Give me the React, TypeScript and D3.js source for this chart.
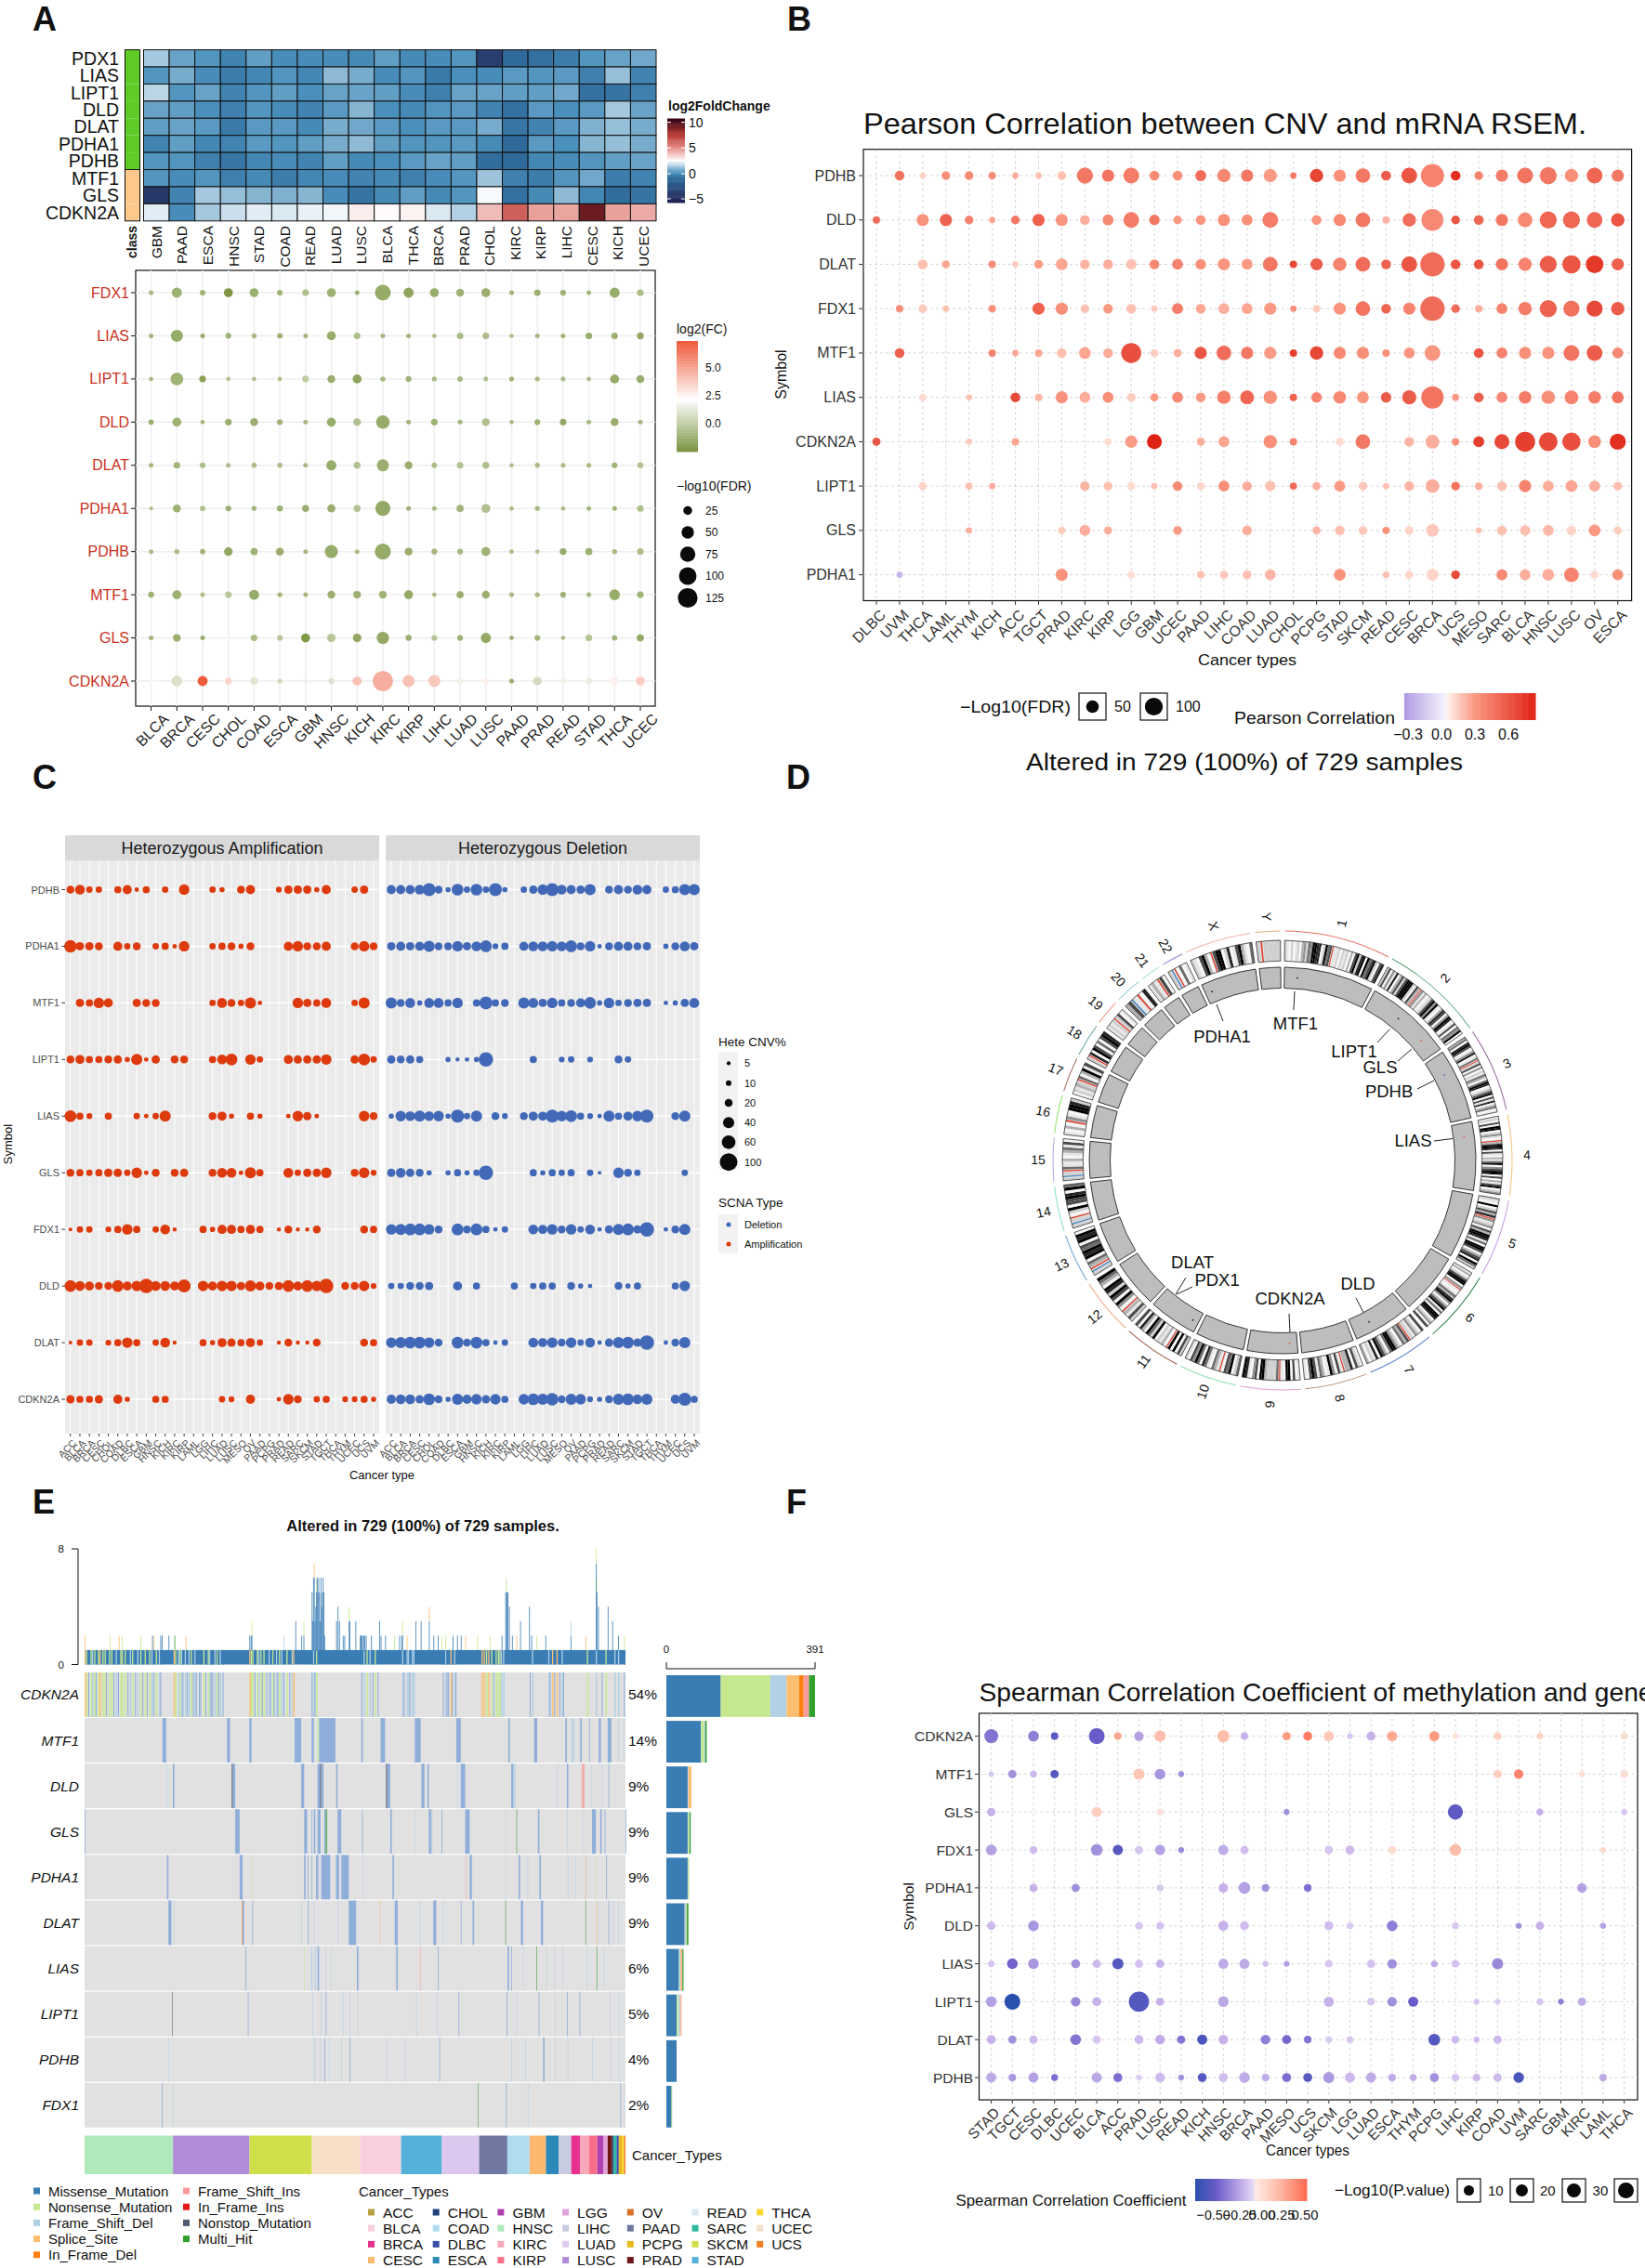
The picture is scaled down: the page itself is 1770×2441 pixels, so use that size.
import React from 'react';
import * as d3 from 'd3';

// ---------- Panel A: heatmap ----------
const heatCols = ['GBM','PAAD','ESCA','HNSC','STAD','COAD','READ','LUAD','LUSC','BLCA','THCA','BRCA','PRAD','CHOL','KIRC','KIRP','LIHC','CESC','KICH','UCEC'];
const heatRows = ['PDX1','LIAS','LIPT1','DLD','DLAT','PDHA1','PDHB','MTF1','GLS','CDKN2A'];
const heatClass = [0,0,0,0,0,0,0,1,1,1];
const heatValues = [
[1.2,.4,.1,-.4,.3,-.1,-.1,-.1,-.2,.3,-.2,-.1,.1,-4,-1.2,-1,-.6,.1,.4,.5],
[.1,.6,-.1,-.6,-.3,.1,-.3,.9,.6,-.1,.1,-.7,0,-.1,.2,.1,.2,-.5,1,-.4],
[1.5,.1,.4,-.4,.1,.3,0,.4,.4,.3,-.1,-.5,.4,.4,.3,.3,.5,-1,-.9,-.5],
[.4,.3,0,-.5,.1,-.1,-.4,.2,.8,0,-.2,.1,.2,-.4,-1,.2,0,.2,1.2,.4],
[.3,.4,.2,-.7,.2,.2,-.2,.6,.5,.2,0,.2,.2,.6,-.8,-.4,.2,.7,1,.6],
[-.4,.3,-.3,-.4,.2,.1,.3,.6,.9,.3,.1,.1,.2,-.2,-1.2,.2,0,.8,1,.6],
[.1,.1,-.5,-.8,-.3,-.1,-.4,.3,-.2,0,.2,.4,.3,-1.1,-1.2,-.3,-.1,.1,.3,.4],
[.1,-.1,.1,-.5,-.2,-.6,-.3,-.1,-.4,-.2,-.5,-.1,.1,1.1,-.5,-.6,.1,.5,-.6,-.4],
[-4.5,-.4,1.2,1,.8,.7,.8,-.1,-.9,-.2,.3,-.2,.1,2.3,-1,-.2,.9,-.3,-1.1,-.9],
[2,-.1,1.2,1.7,2,1.9,2.1,2.2,2.8,2.5,2.7,1.9,1.4,3.9,6.3,4.5,4.4,9.3,4.5,4.3],
];

// ---------- Panel A: bubble ----------
const aCols = ['BLCA','BRCA','CESC','CHOL','COAD','ESCA','GBM','HNSC','KICH','KIRC','KIRP','LIHC','LUAD','LUSC','PAAD','PRAD','READ','STAD','THCA','UCEC'];
const aRows = ['FDX1','LIAS','LIPT1','DLD','DLAT','PDHA1','PDHB','MTF1','GLS','CDKN2A'];
const aSize = [
[6,28,9,22,22,9,12,22,6,68,28,22,17,22,6,12,9,6,28,12],
[6,40,6,9,7,8,6,22,12,6,6,5,12,12,5,6,6,12,12,13],
[5,45,12,5,5,5,12,17,22,7,9,6,8,6,6,6,6,5,22,17],
[8,22,5,12,17,9,6,22,16,50,6,12,6,16,5,9,12,6,17,6],
[6,12,9,6,7,7,6,28,13,40,17,8,12,13,5,7,6,6,9,10],
[4,17,8,9,7,10,13,18,13,62,6,6,14,22,5,7,5,6,6,12],
[6,7,8,20,14,17,6,48,6,70,16,9,9,22,5,5,12,14,7,12],
[10,22,6,12,28,7,6,17,16,16,22,5,14,17,6,7,9,6,32,12],
[6,16,6,5,12,9,22,20,20,42,10,9,9,28,5,9,5,12,8,14],
[5,32,28,13,16,6,6,9,22,110,40,40,12,10,6,20,10,10,16,22],
];
const aFC = [
[-.5,-.8,-.6,-1.9,-.8,-.7,-.2,-.8,-.7,-1,-1.3,-1,-.8,-.9,-.7,-.8,-.8,-.6,-1,-.3],
[-.6,-1,-.9,-.7,-.5,-.8,-.6,-1,-.2,-.5,-.6,-.4,-.3,-.3,-.3,-.5,-.7,-.9,-.8,-1.1],
[-.5,-.7,-1.4,-.2,-.3,-.2,.3,-.9,-1.3,-.5,-.7,-.5,-.4,-.2,-.7,-.4,-.3,-.3,-1,-1],
[-.8,-.8,-.6,-.9,-.9,-.7,-.5,-1,-.1,-1,-.6,-.8,-.5,-.2,-.4,-.7,-1.1,-.5,-.9,-.5],
[-.5,-.7,-.2,-.2,-.4,-.4,-.5,-1,-.1,-.9,-.9,-.3,-.1,-.2,-.3,-.3,-.4,-.5,-.7,0],
[-.4,-.8,-.1,-.8,-.5,-.8,-.9,-.9,-.1,-1.1,-.7,-.5,-.6,-.1,-.4,-.4,-.4,-.5,-.7,-.2],
[-.3,-.3,-.6,-1.2,-.7,-.9,-.5,-1,-.3,-1,-.9,-.6,-.5,-.8,-.4,-.2,-1,-.8,-.4,-.2],
[-.7,-.8,-.2,.1,-1,-.5,-.5,-.9,-.8,-.7,-1.1,-.5,-.9,-.9,-.4,-.4,-.8,-.4,-1,-.7],
[-.6,-.9,-.9,2.2,-.3,0,-1.8,.1,-1.2,-1.1,-.9,0,-.8,-1.1,-1,-.6,-.4,0,-.7,-1.1],
[2.3,1.2,7.5,3.8,1.4,.8,1.9,1.3,4.4,5,4.4,4.2,2,3,-1,1,2,1.7,3,4],
];
const aFdrLegend = [25,50,75,100,125];

// ---------- Panel B ----------
const bCols = ['DLBC','UVM','THCA','LAML','THYM','KICH','ACC','TGCT','PRAD','KIRC','KIRP','LGG','GBM','UCEC','PAAD','LIHC','COAD','LUAD','CHOL','PCPG','STAD','SKCM','READ','CESC','BRCA','UCS','MESO','SARC','BLCA','HNSC','LUSC','OV','ESCA'];
const bRows = ['PDHB','DLD','DLAT','FDX1','MTF1','LIAS','CDKN2A','LIPT1','GLS','PDHA1'];
const bSize = [
[0,19,7,15,15,11,8,8,15,52,30,50,19,19,24,36,30,36,8,36,30,43,20,50,108,19,15,30,50,58,36,50,30],
[11,0,30,30,15,8,15,30,30,19,24,50,22,15,19,30,24,50,0,19,30,43,11,36,97,15,19,30,43,58,58,50,36],
[0,0,19,13,0,11,8,15,28,19,19,22,19,24,22,30,24,43,11,30,36,43,19,50,119,19,19,30,36,58,67,62,30],
[0,11,15,8,0,11,0,30,30,15,19,19,8,24,19,24,24,30,8,11,30,43,19,30,119,15,11,24,36,58,52,52,36],
[0,19,0,0,0,11,8,11,19,28,19,80,11,13,30,43,30,30,11,36,30,30,11,24,50,0,19,24,30,30,50,50,24],
[0,0,11,0,7,0,19,11,30,24,24,15,13,24,19,36,38,36,11,22,32,28,22,40,100,10,19,24,32,36,38,32,28],
[13,0,0,0,8,0,11,0,0,0,10,30,45,0,13,24,0,36,11,0,13,43,0,19,38,11,24,45,80,70,67,32,52],
[0,0,13,0,10,8,0,0,0,19,15,13,8,19,11,24,19,22,10,13,24,15,8,19,38,15,11,19,30,24,28,24,15],
[0,0,0,0,8,0,0,0,11,24,13,0,0,15,0,0,19,0,0,13,19,15,11,15,32,0,8,19,22,24,19,28,13],
[0,8,0,0,0,0,0,0,30,0,0,11,0,0,11,13,15,24,0,0,28,0,9,13,28,15,0,24,24,28,43,13,24],
];
const bCorr = [
[0,.42,.1,.3,.32,.3,.2,.15,.15,.4,.42,.38,.32,.3,.45,.33,.4,.25,.4,.62,.3,.4,.52,.55,.35,.72,.35,.38,.42,.4,.3,.48,.4],
[.45,0,.28,.5,.35,.22,.4,.5,.27,.2,.32,.38,.4,.25,.28,.3,.3,.38,0,.28,.33,.4,.18,.45,.33,.55,.48,.4,.33,.48,.48,.48,.55],
[0,0,.15,.22,0,.3,.12,.25,.22,.18,.2,.15,.33,.35,.3,.27,.25,.4,.6,.52,.35,.45,.5,.55,.45,.55,.55,.42,.35,.52,.55,.68,.5],
[0,.3,.12,.15,0,.3,0,.5,.3,.15,.25,.15,.12,.38,.22,.2,.22,.25,.3,.12,.28,.42,.48,.35,.45,.45,.2,.35,.38,.5,.43,.6,.52],
[0,.5,0,0,0,.35,.22,.22,.15,.22,.2,.58,.12,.2,.55,.45,.4,.25,.65,.62,.33,.3,.3,.27,.27,0,.55,.35,.3,.28,.42,.52,.33],
[0,0,.08,0,.15,0,.6,.18,.28,.2,.3,.12,.25,.33,.25,.37,.48,.3,.5,.35,.33,.27,.52,.52,.42,.25,.5,.33,.38,.3,.35,.38,.42],
[.55,0,0,0,.12,0,.22,0,0,0,.08,.25,.78,0,.2,.22,0,.3,.35,0,.08,.4,0,.18,.2,.3,.65,.6,.65,.6,.58,.3,.72],
[0,0,.1,0,.15,.2,0,0,0,.18,.15,.08,.15,.32,.1,.3,.2,.15,.45,.2,.25,.13,.15,.18,.2,.42,.2,.15,.35,.2,.22,.2,.15],
[0,0,0,0,.2,0,0,0,.12,.2,.2,0,0,.25,0,0,.2,0,0,.18,.15,.13,.3,.1,.13,0,.15,.15,.15,.17,.1,.25,.12],
[0,-.25,0,0,0,0,0,0,.28,0,0,.07,0,0,.15,.13,.15,.18,0,0,.28,0,.15,.1,.1,.6,0,.33,.2,.2,.35,.08,.3],
];

// ---------- Panel C ----------
const cCols = ['ACC','BLCA','BRCA','CESC','CHOL','COAD','DLBC','ESCA','GBM','HNSC','KICH','KIRC','KIRP','LAML','LGG','LIHC','LUAD','LUSC','MESO','OV','PAAD','PCPG','PRAD','READ','SARC','SKCM','STAD','TGCT','THCA','THYM','UCEC','UCS','UVM'];
const cRows = ['PDHB','PDHA1','MTF1','LIPT1','LIAS','GLS','FDX1','DLD','DLAT','CDKN2A'];
const cAmp = [
[18,28,12,12,0,15,24,6,15,0,12,0,32,0,0,12,8,0,18,24,0,0,10,20,20,20,8,24,0,0,12,20,0],
[45,20,20,18,0,24,12,18,0,12,15,6,32,0,0,12,15,18,8,18,0,0,0,24,32,18,18,24,0,0,18,32,18],
[0,20,15,32,24,0,0,20,18,18,0,0,0,0,0,12,28,18,12,36,6,0,0,0,32,20,15,28,0,0,12,36,0],
[18,24,15,15,18,20,8,36,6,20,0,18,18,0,0,15,28,40,0,32,12,0,0,24,20,20,20,32,0,0,20,40,12],
[40,15,10,0,15,0,0,12,6,12,36,0,0,0,0,18,24,8,0,15,8,0,0,6,32,20,6,0,0,0,0,32,18],
[18,15,12,15,20,20,12,32,6,18,0,18,20,0,0,18,28,28,6,36,15,0,0,28,12,20,20,32,0,0,18,32,10],
[4,12,12,0,10,15,32,15,0,12,28,5,0,0,15,8,24,24,15,24,15,0,5,18,5,5,18,0,0,0,0,18,15],
[40,28,24,18,18,40,24,32,60,28,28,24,49,0,32,24,32,32,20,36,24,18,20,40,24,40,32,60,0,18,18,32,10],
[4,12,12,0,10,15,32,15,0,12,28,5,0,0,15,8,24,20,15,24,12,0,5,18,5,5,18,0,0,0,0,18,15],
[20,15,15,20,0,24,8,0,0,15,15,0,0,0,0,0,12,10,0,24,0,0,6,32,18,0,12,15,0,10,10,15,8],
];
const cDel = [
[24,24,24,28,49,18,8,40,12,40,12,49,8,0,12,20,32,49,28,24,20,36,0,18,24,18,28,24,0,12,15,36,36],
[20,24,20,24,36,18,18,32,20,28,40,10,15,0,24,28,28,32,28,40,18,32,6,18,24,24,18,20,0,8,18,28,20],
[36,18,28,8,28,28,15,32,0,15,49,15,18,0,36,28,20,32,15,18,24,40,8,32,12,18,20,20,0,6,8,20,28],
[20,18,20,15,0,0,8,5,6,8,60,0,0,0,0,15,0,0,10,12,0,10,0,0,18,12,0,0,0,0,0,0,0],
[8,32,28,36,28,32,8,49,12,36,0,18,10,0,18,24,24,49,32,40,15,10,6,36,15,24,32,49,0,0,18,36,0],
[20,28,20,18,8,0,8,15,8,12,60,0,0,0,0,15,8,15,12,15,0,12,4,0,32,18,12,0,0,0,0,12,0],
[32,36,40,40,32,18,0,40,18,40,15,6,12,0,0,28,24,32,18,32,12,28,6,20,36,40,20,60,0,6,18,36,0],
[12,12,18,18,20,0,0,24,0,15,0,0,0,15,0,12,15,15,0,18,8,6,0,0,18,8,15,0,0,0,15,32,0],
[32,36,40,40,32,18,0,40,18,40,15,6,12,0,0,28,24,32,18,32,12,28,6,20,36,40,20,60,0,6,18,36,0],
[24,28,28,20,40,18,8,36,24,32,20,32,15,0,32,40,36,44,18,36,32,10,8,18,36,40,28,36,0,0,24,49,15],
];
const cLegend = [5,10,20,40,60,100];

// ---------- Panel D ----------
const chrNames = ['1','2','3','4','5','6','7','8','9','10','11','12','13','14','15','16','17','18','19','20','21','22','X','Y'];
const chrSizes = [249,243,198,191,181,171,159,146,141,135,135,133,115,107,102,90,81,78,59,63,48,51,155,59];
const chrArcColors = ['#e8776a','#5fa37a','#9a6b9e','#f5c27a','#c79be0','#3e8a5a','#5577cc','#b98a6a','#e0a0d0','#90e0b0','#a05a4a','#f0a27a','#6a9ad8','#80dcc8','#b0a0e8','#90e070','#a06a5a','#5aa0a0','#f09a80','#8fd0d8','#a0e0c0','#9a80d0','#f0b0a8','#e0b080'];
const chrBands = [
'2102012034254887702856r112021203068278085682067',
'260417036268882063r413012684810376048701605480',
'3507860147015r260402153058701368061703501',
'120608802410r378706103158046880603168024',
'210802637r412406388715088603670852',
'130268804r10153784036815088702406',
'602412r6350248850368071203',
'0260733r160481035168601',
'10608801r522223880640178',
'5208560r13501570584602',
'260808r03120825803706',
'2613r0480682780358',
'2br3508785608780',
'2b2r02806687085',
'2b2r51130135160',
'1030r4108872',
'02132r503816',
'2r7086050687',
'1212r2601',
'36b1r07',
'131r60',
'2br0501',
'2106830r68802701683105',
'2r22222',
];
const geneMarks = [
{c:0,p:38,col:'#222'},{c:1,p:99,col:'#222'},{c:1,p:191,col:'#e8604a'},{c:2,p:58,col:'#4a6fb0'},{c:3,p:39,col:'#e8604a'},
{c:6,p:107,col:'#222'},{c:8,p:22,col:'#e8402a'},{c:10,p:18,col:'#222'},{c:22,p:19,col:'#222'},
];
const geneLabels = [
{t:'PDHA1',x:1315,y:1115},{t:'MTF1',x:1394,y:1101},{t:'LIPT1',x:1457,y:1131},{t:'GLS',x:1485,y:1148},{t:'PDHB',x:1494.6,y:1174},
{t:'LIAS',x:1520.5,y:1227},{t:'DLD',x:1461,y:1381},{t:'CDKN2A',x:1388,y:1397},{t:'PDX1',x:1309.6,y:1377},{t:'DLAT',x:1283,y:1358},
];
const geneLeaders = [
[1309,1081,1316,1099],[1393,1067,1392,1087],[1495.5,1107.5,1482,1122],[1519,1129,1504,1142],[1543,1163,1525,1172],
[1563,1225.5,1543,1228],[1467,1412.4,1459,1397],[1388,1434,1387,1414],[1265,1393,1276,1375],[1266,1393,1283,1385],
];

// ---------- Panel E ----------
const mutColors = {m:'#3a7db5',g:'#c6e98f',l:'#b0d0e4',o:'#fdbf6f',d:'#ff7f0e',p:'#fb9a99',r:'#e31a1c',n:'#4d5a70',h:'#33a02c'};
const oncoGenes = ['CDKN2A','MTF1','DLD','GLS','PDHA1','DLAT','LIAS','LIPT1','PDHB','FDX1'];
const oncoPct = ['54%','14%','9%','9%','9%','9%','6%','5%','4%','2%'];
const cdkn2aStrips = [[0,'o'],[2,'g'],[5,'m'],[8,'g'],[10,'l'],[13,'g'],[15,'m'],[18,'g'],[20,'o'],[24,'g'],[27,'g'],[29,'m'],[33,'g'],[36,'g'],[39,'m'],[42,'l'],[45,'m'],[48,'g'],[50,'g'],[54,'g'],[58,'m'],[61,'l'],[64,'g'],[68,'m'],[71,'l'],[75,'g'],[78,'m'],[81,'g'],[84,'m'],[87,'g'],[90,'l'],[93,'m'],[96,'g'],[100,'l'],[102,'m'],
[120,'o'],[122,'g'],[126,'l'],[128,'g'],[130,'l'],[132,'m'],[135,'l'],[138,'m'],[140,'l'],[143,'g'],[146,'m'],[148,'l'],[150,'m'],[154,'m'],[156,'m'],[160,'g'],[163,'m'],[166,'g'],[168,'l'],[170,'m'],[172,'m'],[175,'l'],[178,'g'],[180,'m'],[182,'l'],[186,'m'],
[222,'o'],[224,'g'],[226,'g'],[229,'m'],[232,'g'],[234,'l'],[237,'g'],[239,'m'],[241,'g'],[245,'m'],[248,'l'],[250,'m'],[253,'g'],[255,'m'],[258,'l'],[260,'m'],[262,'g'],[265,'l'],[268,'m'],[272,'g'],[276,'m'],[279,'l'],[281,'o'],
[306,'m'],[308,'l'],[310,'m'],[312,'g'],[373,'m'],[376,'l'],[380,'g'],[384,'l'],[388,'m'],[391,'g'],[395,'m'],
[428,'l'],[430,'m'],[434,'l'],[436,'l'],[438,'m'],[441,'l'],[443,'l'],
[483,'m'],[486,'l'],[488,'m'],[490,'m'],[493,'o'],[495,'m'],[498,'l'],[500,'m'],
[535,'o'],[538,'o'],[541,'g'],[544,'o'],[548,'g'],[551,'m'],[554,'g'],[557,'g'],[559,'g'],[561,'l'],[564,'l'],
[600,'m'],[603,'l'],[625,'l'],[627,'m'],[630,'o'],[633,'m'],[636,'o'],[640,'m'],[643,'l'],[645,'m'],
[677,'g'],[689,'l'],[697,'m'],[702,'g'],[714,'l'],[719,'l'],[727,'m']];
const mtf1Strips = [[105,110],[192,196],[222,225],[283,292],[306,309],[314,316,'g'],[316,338],[373,375],[399,405],[445,453],[501,507],[571,573],[606,610],[648,650],[656,660,'l'],[668,670],[680,681],[693,696],[705,710],[719,720,'l'],[727,728,'l']];
const dldStrips = [[110,111,'l'],[119,121],[198,200,'n'],[200,203],[292,296],[314,317],[317,319,'n'],[319,322],[339,341],[406,408,'n'],[408,412],[454,458],[462,464],[502,503,'l'],[507,513],[575,578],[578,581,'l'],[637,638,'l'],[650,652],[670,674,'p'],[683,684,'l'],[697,698,'l'],[706,707]];
const glsStrips = [[0,1],[203,209],[296,300],[306,307],[309,311],[314,318],[323,325],[325,327,'h'],[341,346],[374,375],[412,414],[445,446,'l'],[464,467],[467,469,'l'],[481,482],[513,519],[567,568,'l'],[582,583,'h'],[611,613],[650,651,'l'],[672,673,'l'],[684,689],[695,697],[701,702],[729,729.8]];
const pdha1Strips = [[1,2,'l'],[111,113],[209,213],[224,225,'g'],[296,298],[301,302],[306,307],[312,315],[319,331],[339,343],[346,356],[375,376,'l'],[415,417],[514,515,'p'],[519,522],[567,568,'l'],[585,587],[597,598,'l'],[613,615],[651,652,'l'],[661,662,'l'],[675,676,'p'],[688,689,'g'],[703,704]];
const dlatStrips = [[113,117],[120,121,'l'],[212,213,'d'],[213,215],[226,227],[292,293,'l'],[301,302],[309,310,'l'],[341,342,'l'],[356,366],[398,399,'o'],[418,422],[452,453,'l'],[470,474],[483,484,'l'],[507,508],[523,525],[567,568,'h'],[588,591],[615,618],[675,676,'h'],[690,691,'o'],[692,693,'l'],[706,707],[712,713,'l'],[719,720,'l']];
const liasStrips = [[217,218],[296,297,'g'],[305,307,'l'],[310,312,'l'],[314,316],[325,326,'l'],[332,333,'l'],[367,369],[420,422],[452,453,'p'],[476,477],[570,572],[575,576],[591,592,'l'],[609,610,'h'],[622,623,'l'],[633,634,'l'],[644,645,'l'],[677,678,'l'],[690,691,'h'],[700,701,'l']];
const lipt1Strips = [[118,119,'n'],[220,221],[307,308,'l'],[318,319,'l'],[325,326],[348,349,'l'],[357,358,'l'],[368,369,'l'],[447,448,'l'],[475,476,'l'],[504,505],[569,570],[582,583,'l'],[612,613],[634,635,'l'],[650,651],[667,668],[708,709,'l'],[720,721,'l']];
const pdhbStrips = [[113,114,'l'],[309,311,'l'],[317,318,'l'],[323,324],[329,330,'l'],[346,347,'l'],[357,358],[407,408,'l'],[432,433,'l'],[478,479],[575,576,'l'],[594,595,'l'],[618,620],[634,635,'l'],[651,652,'l'],[684,685,'l'],[709,710,'l'],[720,721,'l']];
const fdx1Strips = [[104,105],[119,120,'l'],[530,531,'h'],[568,569],[598,599,'l'],[722,723],[727,728,'l']];
const oncoStrips = [null,mtf1Strips,dldStrips,glsStrips,pdha1Strips,dlatStrips,liasStrips,lipt1Strips,pdhbStrips,fdx1Strips];
const topSpikes = [[0,2,'o'],[34,2,'g'],[46,2,'o'],[50,2,'g'],[75,2,'g'],[91,2,'m'],[93,2,'o'],[102,2,'m'],[104,2,'m'],[113,2,'m'],[121,2,'h'],[136,2,'o'],[222,2,'m'],[224,2,'m'],[225,3,'g'],[268,2,'l'],[284,3,'m'],[292,2,'m'],[295,3,'g'],[306,5,'m'],[307,3,'m'],[308,6,'m'],[309,7,'o'],[310,3,'m'],[311,4,'m'],[312,6,'g'],[313,6,'m'],[314,5,'m'],[315,6,'m'],[316,5,'m'],[317,3,'m'],[318,6,'m'],[319,4,'m'],[320,5,'m'],[321,6,'m'],[322,5,'m'],[323,2,'m'],[339,3,'m'],[341,4,'m'],[343,3,'m'],[348,2,'m'],[350,2,'m'],[356,4,'g'],[357,3,'m'],[365,3,'m'],[371,2,'m'],[372,2,'m'],[373,2,'m'],[374,2,'m'],[376,2,'m'],[377,2,'m'],[379,2,'m'],[386,2,'m'],[397,3,'m'],[399,2,'m'],[405,2,'m'],[417,2,'g'],[424,2,'m'],[427,2,'m'],[428,3,'g'],[434,2,'o'],[446,3,'m'],[453,3,'m'],[464,4,'o'],[470,2,'m'],[476,2,'m'],[481,2,'g'],[486,2,'g'],[496,2,'m'],[502,2,'m'],[507,2,'m'],[513,2,'o'],[529,2,'g'],[546,2,'g'],[562,2,'m'],[567,5,'m'],[568,6,'g'],[569,5,'m'],[570,5,'m'],[572,4,'m'],[576,2,'m'],[582,2,'o'],[587,3,'m'],[599,4,'m'],[602,2,'m'],[609,2,'g'],[621,2,'m'],[655,3,'l'],[675,2,'o'],[689,8,'g'],[690,6,'g'],[692,4,'m'],[705,4,'m'],[711,3,'m'],[719,2,'m'],[727,2,'g']];
const sideKeys = ['m','g','l','o','d','p','h'];
const sideValues = [[143,130,43,33,12,14,16],[91,8,3,0,0,0,4],[56,0,2,8,0,0,0],[56,3,2,0,0,0,3],[56,3,1,0,0,0,0],[48,1,4,1,0,0,4],[33,1,3,2,1,2,3],[27,4,5,2,0,2,0],[27,0,0,0,0,0,0],[13,1,0,0,0,0,1]];
const annoTypes = ['HNSC','LUSC','SKCM','UCEC','BLCA','STAD','LUAD','PAAD','COAD','CESC','ESCA','LIHC','BRCA','KIRC','KIRP','GBM','LGG','PRAD','CHOL','SARC','DLBC','PCPG','THCA','UCS'];
const annoCounts = [119,103,84,65,55,55,50,38,30,22,17,17,12,12,11,8,6,6,2,4,3,4,3,2];
const cancerColors = {ACC:'#b8a040',BLCA:'#f9d0e0',BRCA:'#e83090',CESC:'#fdb870',CHOL:'#1f3f78',COAD:'#b0dcf0',DLBC:'#3a50a8',ESCA:'#2c88b8',GBM:'#b040b0',HNSC:'#aeeabb',KIRC:'#f8a8b8',KIRP:'#f87088',LGG:'#e0a0d8',LIHC:'#c8cce0',LUAD:'#dcc8ee',LUSC:'#b08cd8',OV:'#d87028',PAAD:'#7078a0',PCPG:'#e8b820',PRAD:'#701818',READ:'#d8e8f4',SARC:'#30b8a0',SKCM:'#cfe04a',STAD:'#55b0da',THCA:'#f8d830',UCEC:'#f8e0c8',UCS:'#f08020'};
const cancerLegendCols = [['ACC','BLCA','BRCA','CESC'],['CHOL','COAD','DLBC','ESCA'],['GBM','HNSC','KIRC','KIRP'],['LGG','LIHC','LUAD','LUSC'],['OV','PAAD','PCPG','PRAD'],['READ','SARC','SKCM','STAD'],['THCA','UCEC','UCS']];
const mutLegend1 = [['Missense_Mutation','m'],['Nonsense_Mutation','g'],['Frame_Shift_Del','l'],['Splice_Site','o'],['In_Frame_Del','d']];
const mutLegend2 = [['Frame_Shift_Ins','p'],['In_Frame_Ins','r'],['Nonstop_Mutation','n'],['Multi_Hit','h']];

// ---------- Panel F ----------
const fCols = ['STAD','TGCT','CESC','DLBC','UCEC','BLCA','ACC','PRAD','LUSC','READ','KICH','HNSC','BRCA','PAAD','MESO','UCS','SKCM','LGG','LUAD','ESCA','THYM','PCPG','LIHC','KIRP','COAD','UVM','SARC','GBM','KIRC','LAML','THCA'];
const fRows = ['CDKN2A','MTF1','GLS','FDX1','PDHA1','DLD','LIAS','LIPT1','DLAT','PDHB'];
const fCDKN2A = [[0,17,-.28],[2,10,-.25],[3,5,-.4],[5,22,-.35],[6,5,.3],[7,8,-.15],[8,11,.22],[11,13,.22],[12,5,-.1],[14,6,.35],[15,7,.45],[16,9,.18],[17,3,-.05],[18,7,-.1],[19,9,.3],[21,9,.35],[22,2.5,.08],[24,5,.15],[26,4,.12],[30,4,.1]];
const fMTF1 = [[0,2.5,-.05],[1,6,-.2],[2,4,-.08],[3,6,-.42],[7,11,.18],[8,10,-.18],[9,3,-.2],[24,6,.15],[25,8,.42],[28,3,.08],[30,5,.08]];
const fGLS = [[0,6,-.1],[5,9,.15],[8,4,.06],[14,3,-.2],[22,20,-.38],[26,4,-.1],[30,3,-.05]];
const fFDX1 = [[0,10,-.15],[2,5,-.08],[5,12,-.2],[6,9,-.42],[7,6,-.05],[8,9,-.15],[9,3,-.22],[11,9,-.12],[12,6,-.07],[16,6,-.05],[17,7,-.08],[19,5,.1],[22,12,.22],[29,3,.1]];
const fPDHA1 = [[2,6,-.1],[4,6,-.2],[8,4,-.05],[11,8,-.1],[12,12,-.15],[13,5,-.2],[15,5,-.3],[28,8,-.15]];
const fDLD = [[0,6,-.08],[2,10,-.18],[7,5,-.05],[8,5,-.06],[11,9,-.1],[12,7,-.07],[16,7,-.07],[17,4,-.04],[19,10,-.25],[22,4,-.05],[25,3,-.2],[26,6,-.1],[29,3,-.15]];
const fLIAS = [[0,4,-.05],[1,10,-.33],[2,10,-.18],[4,7,-.2],[5,6,-.08],[6,11,-.42],[7,6,-.06],[8,6,-.1],[11,9,-.12],[12,9,-.12],[13,3,-.07],[14,3,-.15],[16,5,-.05],[18,6,-.06],[19,8,-.2],[21,4,-.12],[22,5,-.06],[24,11,-.22]];
const fLIPT1 = [[0,10,-.15],[1,22,-.55],[4,8,-.22],[5,7,-.1],[7,36,-.42],[8,6,-.1],[11,10,-.13],[16,9,-.1],[18,5,-.05],[19,8,-.2],[20,9,-.35],[23,3,-.06],[24,3,-.04],[26,4,-.05],[27,3,-.25],[28,6,-.12]];
const fDLAT = [[0,7,-.1],[1,6,-.2],[2,6,-.08],[4,10,-.28],[5,6,-.05],[7,7,-.08],[8,8,-.12],[9,6,-.28],[10,9,-.45],[11,8,-.1],[13,8,-.25],[14,7,-.32],[15,5,-.28],[16,4,-.04],[17,4,-.05],[21,12,-.42],[22,5,-.08],[23,3,-.08],[24,6,-.08]];
const fPDHB = [[0,9,-.12],[1,5,-.18],[2,9,-.15],[3,4,-.3],[5,9,-.13],[6,7,-.3],[7,3,-.03],[8,8,-.08],[9,3,-.2],[10,7,-.42],[11,7,-.07],[12,10,-.12],[13,5,-.12],[14,7,-.3],[15,7,-.4],[16,11,-.17],[17,9,-.08],[18,9,-.12],[19,5,-.12],[20,4,-.12],[21,7,-.2],[22,5,-.06],[23,5,-.08],[24,6,-.08],[25,10,-.45],[29,5,-.12]];
const fData = [fCDKN2A,fMTF1,fGLS,fFDX1,fPDHA1,fDLD,fLIAS,fLIPT1,fDLAT,fPDHB];

// ---------- helpers ----------
const T = ({x,y,s=14,a='start',w='normal',c='#111',rot,it,len,children}:any) => (
  <text x={x} y={y} fontSize={s} textAnchor={a} fontWeight={w} fill={c} dominantBaseline="central" fontStyle={it?'italic':undefined}
    transform={rot!=null?`rotate(${rot} ${x} ${y})`:undefined} textLength={len} lengthAdjust={len?'spacingAndGlyphs':undefined}>{children}</text>
);
const GradBar = ({x,y,w,h,scale,d0,d1,vertical}:any) => {
  const n = 80;
  return <g>{d3.range(n).map(i=>{
    const v = d0+(d1-d0)*(i+.5)/n;
    return vertical
      ? <rect key={i} x={x} y={y+h-(i+1)*h/n} width={w} height={h/n+.5} fill={scale(v)}/>
      : <rect key={i} x={x+i*w/n} y={y} width={w/n+.5} height={h} fill={scale(v)}/>;
  })}</g>;
};

function PanelA(){
  const x = d3.scaleBand().domain(heatCols).range([154.5,706]);
  const y = d3.scaleBand().domain(heatRows).range([53.6,237.8]);
  const col = d3.scaleLinear<string>().domain([-5,-1.2,0,2.4,5,7.5,10]).range(['#25305f','#2f6a9a','#4a90bc','#ffffff','#e58a85','#b93a35','#4f0f1c']);
  const xd = d3.scalePoint().domain(aCols).range([162.6,689]);
  const yd = d3.scalePoint().domain(aRows).range([315,733]);
  const r = d3.scaleSqrt().domain([0,125]).range([0,11.5]);
  const fc = d3.scaleLinear<string>().domain([-2,2.5,7.5]).range(['#7a9440','#ffffff','#ee5a3a']);
  return <g>
    <T x={35} y={20} s={36} w="bold">A</T>
    {heatRows.map((g,i)=><g key={g}>
      <T x={128} y={y(g)!+y.bandwidth()/2} s={19.5} a="end">{g}</T>
      <rect x={134.5} y={y(g)} width={16} height={y.bandwidth()} fill={heatClass[i]?'#fcc98a':'#5ecb26'}/>
      {heatCols.map((c,j)=><rect key={c} x={x(c)} y={y(g)} width={x.bandwidth()} height={y.bandwidth()} fill={col(heatValues[i][j])} stroke="#111" strokeWidth={1}/>)}
    </g>)}
    <rect x={134.5} y={53.6} width={16} height={184.2} fill="none" stroke="#111"/>
    <line x1={134.5} x2={150.5} y1={y('MTF1')} y2={y('MTF1')} stroke="#111"/>
    <T x={142} y={243} s={14} a="end" w="bold" rot={-90}>class</T>
    {heatCols.map(c=><T key={c} x={x(c)!+x.bandwidth()/2} y={243} s={15.5} a="end" rot={-90}>{c}</T>)}
    <T x={719} y={114} s={14} w="bold">log2FoldChange</T>
    <GradBar x={718} y={127.5} w={19} h={90.5} scale={col} d0={-6} d1={10.7} vertical/>
    {[[10,131.6],[5,159],[0,187],['−5',214]].map(([l,yy]:any)=><g key={l}><line x1={718} x2={722} y1={yy} y2={yy} stroke="#fff"/><line x1={733} x2={737} y1={yy} y2={yy} stroke="#fff"/><T x={741} y={yy} s={14}>{l}</T></g>)}
    <rect x={146} y={291} width={559} height={469} fill="#fff" stroke="#111" strokeWidth={1.2}/>
    {aCols.map(c=><g key={c}><line x1={xd(c)} x2={xd(c)} y1={291} y2={760} stroke="#eeeeee" strokeWidth={1.5}/><line x1={xd(c)} x2={xd(c)} y1={760} y2={765} stroke="#111"/>
      <T x={xd(c)!+16} y={771} s={16} a="end" rot={-45} c="#222">{c}</T></g>)}
    {aRows.map((g,i)=><g key={g}><line x1={146} x2={705} y1={yd(g)} y2={yd(g)} stroke="#eeeeee" strokeWidth={1.5}/><line x1={141} x2={146} y1={yd(g)} y2={yd(g)} stroke="#111"/>
      <T x={139} y={yd(g)} s={16} a="end" c="#c8321e">{g}</T>
      {aCols.map((c,j)=><circle key={c} cx={xd(c)} cy={yd(g)} r={r(aSize[i][j])} fill={fc(aFC[i][j])}/>)}</g>)}
    <T x={728} y={354} s={14}>log2(FC)</T>
    <GradBar x={728} y={367} w={23} h={119} scale={fc} d0={-2} d1={7.5} vertical/>
    {[['5.0',396],['2.5',426],['0.0',456]].map(([l,yy]:any)=><T key={l} x={759} y={yy} s={12}>{l}</T>)}
    <T x={728} y={523} s={14}>−log10(FDR)</T>
    {aFdrLegend.map((v,i)=><g key={v}><circle cx={740} cy={549.5+i*23.5} r={r(v)*.92} fill="#0a0a0a"/><T x={759} y={549.5+i*23.5} s={12}>{v}</T></g>)}
  </g>;
}

function PanelB(){
  const x = d3.scalePoint().domain(bCols).range([943,1740.7]);
  const y = d3.scalePoint().domain(bRows).range([189,618.6]);
  const r = d3.scaleSqrt().domain([0,100]).range([0,12]);
  const col = d3.scaleLinear<string>().domain([-.3,0,.03,.25,.75]).range(['#b9a7e6','#f5f2fb','#ffeee8','#fb9a84','#e0281a']);
  return <g>
    <T x={847} y={20} s={36} w="bold">B</T>
    <T x={929} y={133} s={32} len={778}>Pearson Correlation between CNV and mRNA RSEM.</T>
    <rect x={929} y={160.7} width={826.6} height={485.8} fill="#fff" stroke="#111" strokeWidth={1.2}/>
    {bCols.map(c=><g key={c}><line x1={x(c)} x2={x(c)} y1={161} y2={646} stroke="#d6d6d6" strokeDasharray="3 3"/><line x1={x(c)} x2={x(c)} y1={646.5} y2={651} stroke="#333"/>
      <T x={x(c)!+7} y={659} s={16} a="end" rot={-45} c="#333">{c}</T></g>)}
    {bRows.map((g,i)=><g key={g}><line x1={929} x2={1755} y1={y(g)} y2={y(g)} stroke="#d6d6d6" strokeDasharray="3 3"/><line x1={924} x2={929} y1={y(g)} y2={y(g)} stroke="#333"/>
      <T x={921} y={y(g)} s={16} a="end" c="#333">{g}</T>
      {bCols.map((c,j)=>bSize[i][j]>0?<circle key={c} cx={x(c)} cy={y(g)} r={r(bSize[i][j])} fill={col(bCorr[i][j])}/>:null)}</g>)}
    <T x={1342} y={710} s={17} a="middle" len={106}>Cancer types</T>
    <T x={840} y={403} s={16} a="middle" rot={-90}>Symbol</T>
    <T x={1033} y={760.6} s={18} len={119}>−Log10(FDR)</T>
    {[[1161,'50',1199],[1227,'100',1265]].map(([bx,l,lx]:any)=><g key={l}><rect x={bx} y={746} width={29} height={29} fill="#fff" stroke="#111" strokeWidth={1.2}/><circle cx={bx+14.5} cy={760.5} r={r(+l)*.8} fill="#0a0a0a"/><T x={lx} y={760.6} s={16}>{l}</T></g>)}
    <T x={1328} y={773} s={18} len={173}>Pearson Correlation</T>
    <GradBar x={1511} y={746} w={141} h={29} scale={col} d0={-.35} d1={.78}/>
    {[['−0.3',1515],['0.0',1551],['0.3',1587],['0.6',1623]].map(([l,xx]:any)=><T key={l} x={xx} y={790.6} s={16} a="middle">{l}</T>)}
    <T x={1104} y={819.5} s={26} len={470}>Altered in 729 (100%) of 729 samples</T>
  </g>;
}

function PanelC(){
  const y = d3.scalePoint().domain(cRows).range([957.5,1506]);
  const r = d3.scaleSqrt().domain([0,100]).range([0,10]);
  const facets = [{x0:70,x1:408,title:'Heterozygous Amplification',data:cAmp,c:'#dd3a0e',a:75.8,b:402},{x0:415,x1:753,title:'Heterozygous Deletion',data:cDel,c:'#4169b8',a:421,b:747}];
  return <g>
    <T x={35} y={836} s={36} w="bold">C</T>
    {facets.map(f=>{
      const x = d3.scalePoint().domain(cCols).range([f.a,f.b]);
      return <g key={f.title}>
        <rect x={f.x0} y={899} width={f.x1-f.x0} height={27.7} fill="#d9d9d9"/>
        <T x={(f.x0+f.x1)/2} y={913} s={18} a="middle" c="#1a1a1a">{f.title}</T>
        <rect x={f.x0} y={926.7} width={f.x1-f.x0} height={616.3} fill="#ebebeb"/>
        {cCols.map(c=><g key={c}><line x1={x(c)} x2={x(c)} y1={926.7} y2={1543} stroke="#fff"/><line x1={x(c)} x2={x(c)} y1={1543} y2={1546} stroke="#333"/>
          <T x={x(c)!+4} y={1551} s={10.5} a="end" rot={-45} c="#4d4d4d">{c}</T></g>)}
        {cRows.map((g,i)=><g key={g}><line x1={f.x0} x2={f.x1} y1={y(g)} y2={y(g)} stroke="#fff" strokeWidth={1.4}/>
          {cCols.map((c,j)=>f.data[i][j]>0?<circle key={c} cx={x(c)} cy={y(g)} r={r(f.data[i][j])} fill={f.c}/>:null)}</g>)}
      </g>;
    })}
    {cRows.map(g=><g key={g}><line x1={66.5} x2={70} y1={y(g)} y2={y(g)} stroke="#333"/><T x={64} y={y(g)} s={11} a="end" c="#4d4d4d">{g}</T></g>)}
    <T x={8} y={1231.5} s={13} a="middle" rot={-90}>Symbol</T>
    <T x={411} y={1587} s={13} a="middle">Cancer type</T>
    <T x={773} y={1121} s={13.5}>Hete CNV%</T>
    <rect x={773} y={1132} width={21} height={126} fill="#f2f2f2"/>
    {cLegend.map((v,i)=><g key={v}><circle cx={784} cy={1144.4+i*21.25} r={r(v)*.95} fill="#0a0a0a"/><T x={801} y={1144.4+i*21.25} s={11}>{v}</T></g>)}
    <T x={773} y={1294} s={13.5}>SCNA Type</T>
    <rect x={773} y={1307} width={21} height={42} fill="#f2f2f2"/>
    <circle cx={784} cy={1318} r={2.5} fill="#4169b8"/><T x={801} y={1318} s={11}>Deletion</T>
    <circle cx={784} cy={1339} r={2.5} fill="#dd3a0e"/><T x={801} y={1339} s={11}>Amplification</T>
  </g>;
}

function PanelD(){
  const cx = 1380, cy = 1249;
  const gap = 1.1*Math.PI/180;
  const total = d3.sum(chrSizes);
  const unit = (2*Math.PI-gap*24)/total;
  let acc = gap/2;
  const chr = chrSizes.map(s=>{ const a0=acc; const a1=acc+s*unit; acc=a1+gap; return {a0,a1}; });
  const arc = d3.arc();
  const bandColor = (ch:string) => ch==='r'?'#e8301c':ch==='b'?'#3f80c0':['#f6f6f6','#e6e6e6','#cfcfcf','#b0b0b0','#8f8f8f','#6c6c6c','#4a4a4a','#222222','#000000'][+ch];
  return <g>
    <T x={846} y={836} s={36} w="bold">D</T>
    <g transform={`translate(${cx},${cy})`}>
      {chr.map((c,i)=>{
        const bands = chrBands[i];
        const s = d3.scaleLinear().domain([0,bands.length]).range([c.a0,c.a1]);
        const mid = (c.a0+c.a1)/2, deg = mid*180/Math.PI;
        const lx = 263*Math.sin(mid), ly = -263*Math.cos(mid);
        return <g key={i}>
          <path d={arc({innerRadius:246.5,outerRadius:247.5,startAngle:c.a0,endAngle:c.a1} as any)!} fill={chrArcColors[i]}/>
          {bands.split('').map((b,j)=>{
            const redLine = b==='r'||b==='b';
            const a0 = redLine ? s(j+.3) : s(j), a1 = redLine ? s(j+.7) : s(j+1);
            return <g key={j}>
              {redLine?<path d={arc({innerRadius:214.7,outerRadius:237,startAngle:s(j),endAngle:s(j+1)} as any)!} fill="#d8d8d8"/>:null}
              <path d={arc({innerRadius:214.7,outerRadius:237,startAngle:a0,endAngle:a1} as any)!} fill={bandColor(b)}/>
            </g>;
          })}
          <path d={arc({innerRadius:214.7,outerRadius:237,startAngle:c.a0,endAngle:c.a1} as any)!} fill="none" stroke="#333" strokeWidth={.8}/>
          <path d={arc({innerRadius:185.5,outerRadius:208,startAngle:c.a0,endAngle:c.a1} as any)!} fill="#bdbdbd" stroke="#222" strokeWidth={.9}/>
          <T x={lx} y={ly} s={14} a="middle" rot={deg<180?deg-90:deg+90}>{chrNames[i]}</T>
        </g>;
      })}
      {geneMarks.map((g,i)=>{
        const a = chr[g.c].a0+g.p*unit;
        return <circle key={i} cx={197*Math.sin(a)} cy={-197*Math.cos(a)} r={.9} fill={g.col}/>;
      })}
    </g>
    {geneLeaders.map((l,i)=><line key={i} x1={l[0]} y1={l[1]} x2={l[2]} y2={l[3]} stroke="#222" strokeWidth={1}/>)}
    {geneLabels.map(g=><T key={g.t} x={g.x} y={g.y} s={18.5} a="middle">{g.t}</T>)}
  </g>;
}

function PanelE(){
  const x = d3.scaleLinear().domain([0,729]).range([91,673]);
  const yTop = d3.scaleLinear().domain([0,8]).range([1791.5,1667]);
  const rowH = 49.1, rowTop = 1800;
  const side = d3.scaleLinear().domain([0,391]).range([717,877]);
  const mc:any = mutColors;
  const stripsCD = cdkn2aStrips as any[];
  const cumAnno = d3.cumsum(annoCounts);
  const annoScale = d3.scaleLinear().domain([0,d3.sum(annoCounts)]).range([91,673]);
  return <g>
    <T x={35} y={1616} s={36} w="bold">E</T>
    <T x={455} y={1642} s={16.5} a="middle" w="bold">Altered in 729 (100%) of 729 samples.</T>
    <line x1={84} x2={84} y1={1667} y2={1791.5} stroke="#111"/>
    <line x1={77} x2={84} y1={1667} y2={1667} stroke="#111"/><line x1={77} x2={84} y1={1791.5} y2={1791.5} stroke="#111"/>
    <T x={69} y={1667} s={11.5} a="end">8</T><T x={69} y={1791.5} s={11.5} a="end">0</T>
    <rect x={91} y={yTop(1)} width={582} height={yTop(0)-yTop(1)} fill={mc.m}/>
    {stripsCD.map(([s,t]:any,i:number)=><rect key={i} x={x(s)} y={yTop(1)} width={x(s+1.6)-x(s)} height={yTop(0)-yTop(1)} fill={mc[t]}/>)}
    {(topSpikes as any[]).map(([s,h,t],i)=><g key={i}>
      <rect x={x(s)} y={yTop(h-1)} width={x(1.2)-x(0)} height={yTop(1)-yTop(h-1)+.5} fill={mc.m} opacity={.85}/>
      <rect x={x(s)} y={yTop(h)} width={x(1.2)-x(0)} height={yTop(h-1)-yTop(h)} fill={mc[t]} opacity={.85}/>
    </g>)}
    {oncoGenes.map((g,i)=>{
      const y0 = rowTop+i*rowH, h = rowH-1.2;
      const strips:any[] = oncoStrips[i] as any;
      let cum = 0;
      return <g key={g}>
        <rect x={91} y={y0} width={582} height={h} fill="#e2e1e2"/>
        {i===0 ? stripsCD.map(([s,t]:any,k:number)=><rect key={k} x={x(s)} y={y0} width={x(s+(t==='m'?1.2:2.2))-x(s)} height={h} fill={t==='m'?'#6f9ad6':mc[t]} opacity={t==='m'?.8:.85}/>)
          : strips.map((st:any,k:number)=><rect key={k} x={x(st[0])} y={y0} width={Math.max(x(st[1])-x(st[0]),.8)} height={h} fill={st[2]?mc[st[2]]:'#6f9ad6'} opacity={st[2]?.7:.72}/>)}
        <T x={85} y={y0+h/2} s={15.5} a="end" it>{g}</T>
        <T x={676} y={y0+h/2} s={15.5}>{oncoPct[i]}</T>
        {sideValues[i].map((v,k)=>{ const r=<rect key={k} x={side(cum)} y={y0+3} width={side(v)-side(0)} height={h-3} fill={mc[sideKeys[k]]}/>; cum+=v; return r; })}
      </g>;
    })}
    <path d="M717 1789V1796H877V1789" fill="none" stroke="#111"/>
    <T x={717} y={1775} s={11.5} a="middle">0</T><T x={877} y={1775} s={11.5} a="middle">391</T>
    {annoTypes.map((t,i)=><rect key={t} x={annoScale(i?cumAnno[i-1]:0)} y={2298.5} width={annoScale(annoCounts[i])-annoScale(0)} height={41.5} fill={(cancerColors as any)[t]}/>)}
    <T x={680} y={2319.5} s={15}>Cancer_Types</T>
    {mutLegend1.map(([l,k],i)=><g key={l}><rect x={36} y={2354.5+i*17.2} width={7} height={7} fill={mc[k]}/><T x={52} y={2358+i*17.2} s={15}>{l}</T></g>)}
    {mutLegend2.map(([l,k],i)=><g key={l}><rect x={197} y={2354.5+i*17.2} width={7} height={7} fill={mc[k]}/><T x={213} y={2358+i*17.2} s={15}>{l}</T></g>)}
    <T x={386} y={2358.6} s={15}>Cancer_Types</T>
    {cancerLegendCols.map((col,ci)=>col.map((t,ri)=><g key={t}>
      <rect x={396+ci*69.7} y={2377.5+ri*17.2} width={7} height={7} fill={(cancerColors as any)[t]}/>
      <T x={412+ci*69.7} y={2381+ri*17.2} s={15.5}>{t}</T>
    </g>))}
  </g>;
}

function PanelF(){
  const x = d3.scalePoint().domain(fCols).range([1066.6,1747.6]);
  const y = d3.scalePoint().domain(fRows).range([1868.6,2236]);
  const r = d3.scaleSqrt().domain([0,40]).range([0,11.5]);
  const col = d3.scaleLinear<string>().domain([-.55,-.35,-.08,0,.02,.25,.5]).range(['#2a50ae','#6a5cc8','#cdb9ec','#e6dcf6','#ffeae4','#fdb8a4','#ff6a50']);
  return <g>
    <T x={846} y={1616} s={36} w="bold">F</T>
    <T x={1053.5} y={1821} s={28} len={725}>Spearman Correlation Coefficient of methylation and gene</T>
    <rect x={1053.5} y={1844} width={708.5} height={416} fill="#fff" stroke="#111" strokeWidth={1.2}/>
    {fCols.map(c=><g key={c}><line x1={x(c)} x2={x(c)} y1={1844} y2={2260} stroke="#d6d6d6" strokeDasharray="3 3"/><line x1={x(c)} x2={x(c)} y1={2260} y2={2264} stroke="#333"/>
      <T x={x(c)!+6} y={2271} s={15.5} a="end" rot={-45} c="#333">{c}</T></g>)}
    {fRows.map((g,i)=><g key={g}><line x1={1053.5} x2={1762} y1={y(g)} y2={y(g)} stroke="#d6d6d6" strokeDasharray="3 3"/><line x1={1049} x2={1053.5} y1={y(g)} y2={y(g)} stroke="#333"/>
      <T x={1047} y={y(g)} s={15.5} a="end" c="#333">{g}</T>
      {(fData[i] as number[][]).map(([ci,s,v])=><circle key={ci} cx={x(fCols[ci])} cy={y(g)} r={r(s)} fill={col(v)}/>)}</g>)}
    <T x={1407} y={2314} s={16} a="middle" len={90}>Cancer types</T>
    <T x={977} y={2052} s={15.5} a="middle" rot={-90}>Symbol</T>
    <T x={1028.5} y={2368.6} s={17} len={248}>Spearman Correlation Coefficient</T>
    <GradBar x={1286} y={2345} w={120} h={24} scale={col} d0={-.55} d1={.5}/>
    {[['−0.50',1305.6],['−0.25',1334],['0.00',1358],['0.25',1379],['0.50',1404]].map(([l,xx]:any)=><T key={l} x={xx} y={2383} s={15} a="middle" len={l.length*7.2}>{l}</T>)}
    <T x={1436} y={2357.6} s={17} len={124}>−Log10(P.value)</T>
    {[[1568,'10',1601],[1625,'20',1657],[1681,'30',1713.6],[1737,'40',0]].map(([bx,l,lx]:any)=><g key={l}><rect x={bx} y={2345} width={25} height={25} fill="#fff" stroke="#111" strokeWidth={1.2}/><circle cx={bx+12.5} cy={2357.5} r={+l*.1+4.5} fill="#0a0a0a"/>{lx?<T x={lx} y={2357.6} s={15}>{l}</T>:null}</g>)}
  </g>;
}

export default function App(){
  return <svg width={1770} height={2441} viewBox="0 0 1770 2441" style={{position:'absolute',left:0,top:0,background:'#fff'}} fontFamily="'Liberation Sans', Arial, sans-serif">
    <PanelA/><PanelB/><PanelC/><PanelD/><PanelE/><PanelF/>
  </svg>;
}
